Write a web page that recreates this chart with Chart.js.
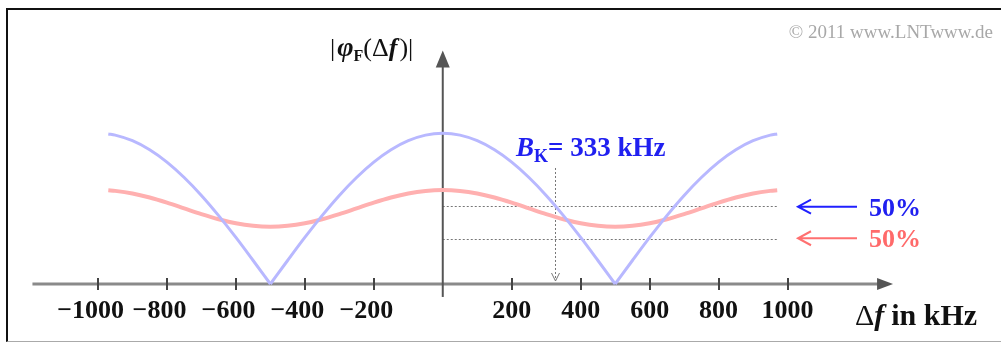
<!DOCTYPE html>
<html>
<head>
<meta charset="utf-8">
<script src="https://cdn.jsdelivr.net/npm/chart.js@4.4.0/dist/chart.umd.min.js"></script>
<style>
    html, body { margin: 0; padding: 0; background: #fff; }
    #wrap { position: relative; width: 1001px; height: 344px; overflow: hidden; }
    #frame {
        position: absolute; left: 6px; top: 8px; width: 1001px; height: 334px;
        border-top: 2px solid #111; border-left: 2px solid #111; border-bottom: 1px solid #aaa;
        box-sizing: border-box; pointer-events: none;
    }
    canvas { position: absolute; left: 0; top: 0; }
</style>
</head>
<body>
<div id="wrap">
    <canvas id="chart" width="1001" height="344"></canvas>
    <div id="frame"></div>
</div>
<script>
// Fréquences Δf en kHz
const freqs = [-970, -950, -900, -850, -800, -750, -700, -650, -600, -550, -500,
    -450, -400, -350, -300, -250, -200, -150, -100, -50, 0,
    50, 100, 150, 200, 250, 300, 350, 400, 450, 500,
    550, 600, 650, 700, 750, 800, 850, 900, 950, 970];

// Courbe bleue
const blueValues = [0.996, 0.988, 0.951, 0.891, 0.809, 0.707, 0.588, 0.454, 0.309, 0.156, 0,
    0.156, 0.309, 0.454, 0.588, 0.707, 0.809, 0.891, 0.951, 0.988, 1,
    0.988, 0.951, 0.891, 0.809, 0.707, 0.588, 0.454, 0.309, 0.156, 0,
    0.156, 0.309, 0.454, 0.588, 0.707, 0.809, 0.891, 0.951, 0.988, 0.996];

// Courbe rouge
const redValues = [0.622, 0.618, 0.601, 0.574, 0.540, 0.502, 0.464, 0.430, 0.403, 0.386, 0.380,
    0.386, 0.403, 0.430, 0.464, 0.502, 0.540, 0.574, 0.601, 0.618, 0.624,
    0.618, 0.601, 0.574, 0.540, 0.502, 0.464, 0.430, 0.403, 0.386, 0.380,
    0.386, 0.403, 0.430, 0.464, 0.502, 0.540, 0.574, 0.601, 0.618, 0.622];

// Graduations de l'axe Δf
const tickValues = [-1000, -800, -600, -400, -200, 200, 400, 600, 800, 1000];
const tickLabels = ['\u22121000', '\u2212800', '\u2212600', '\u2212400', '\u2212200', '200', '400', '600', '800', '1000'];

// Niveaux 50 % et bande de cohérence
const levelBlue = 0.52;
const levelRed = 0.297;
const bkFreq = 326;
const dottedEnd = 970;

const SERIF = '"Liberation Serif", "Times New Roman", serif';
const BLUE_TXT = '#2020f0';
const RED_TXT = '#ff6a6a';

function drawRuns(ctx, x, y, parts) {
    for (const p of parts) {
        ctx.font = p.font;
        ctx.fillStyle = p.color;
        ctx.fillText(p.text, x, y + (p.dy || 0));
        x += ctx.measureText(p.text).width + (p.gap || 0);
    }
    return x;
}

function arrowLeft(ctx, x1, x2, y, color) {
    ctx.save();
    ctx.strokeStyle = color;
    ctx.lineWidth = 2;
    ctx.beginPath();
    ctx.moveTo(x1, y); ctx.lineTo(x2, y);
    ctx.moveTo(x1 + 13, y - 7); ctx.lineTo(x1, y); ctx.lineTo(x1 + 13, y + 7);
    ctx.stroke();
    ctx.restore();
}

// Découpe la courbe bleue aux zéros pour garder les pointes en V
function splitAtZeros(xs, ys) {
    const segments = [];
    let cur = [];
    xs.forEach((x, i) => {
        cur.push({ x: x, y: ys[i] });
        if (ys[i] === 0 && cur.length > 1) {
            segments.push(cur);
            cur = [{ x: x, y: ys[i] }];
        }
    });
    if (cur.length > 1) segments.push(cur);
    return segments;
}

const axesPlugin = {
    id: 'axes',
    beforeDatasetsDraw(chart) {
        const ctx = chart.ctx;
        const xs = chart.scales.x, ys = chart.scales.y;
        const x0 = xs.getPixelForValue(0), y0 = ys.getPixelForValue(0);
        ctx.save();

        // lignes pointillées
        ctx.strokeStyle = '#777';
        ctx.lineWidth = 1;
        ctx.setLineDash([2, 2]);
        ctx.beginPath();
        [levelBlue, levelRed].forEach(v => {
            const y = Math.round(ys.getPixelForValue(v)) + 0.5;
            ctx.moveTo(x0, y); ctx.lineTo(xs.getPixelForValue(dottedEnd), y);
        });
        const xb = Math.round(xs.getPixelForValue(bkFreq)) + 0.5;
        ctx.moveTo(xb, ys.getPixelForValue(0.77));
        ctx.lineTo(xb, y0 - 3);
        ctx.stroke();
        ctx.setLineDash([]);
        ctx.beginPath();
        ctx.moveTo(xb - 4, y0 - 11); ctx.lineTo(xb, y0 - 3); ctx.lineTo(xb + 4, y0 - 11);
        ctx.stroke();

        // axe Δf
        const xStart = xs.getPixelForValue(-1190);
        const xTip = xs.getPixelForValue(1306);
        ctx.strokeStyle = '#8a8a8a';
        ctx.lineWidth = 3;
        ctx.beginPath();
        ctx.moveTo(xStart, y0); ctx.lineTo(xTip - 12, y0);
        ctx.stroke();
        ctx.fillStyle = '#555';
        ctx.beginPath();
        ctx.moveTo(xTip, y0); ctx.lineTo(xTip - 16, y0 - 6); ctx.lineTo(xTip - 16, y0 + 6);
        ctx.closePath(); ctx.fill();

        // graduations
        ctx.strokeStyle = '#444';
        ctx.lineWidth = 2;
        ctx.beginPath();
        tickValues.forEach(v => {
            const x = Math.round(xs.getPixelForValue(v));
            ctx.moveTo(x, y0 - 6); ctx.lineTo(x, y0 + 6);
        });
        ctx.stroke();

        // axe vertical
        const yTip = ys.getPixelForValue(1.55);
        ctx.strokeStyle = '#555';
        ctx.lineWidth = 2;
        ctx.beginPath();
        ctx.moveTo(x0, ys.getPixelForValue(-0.086)); ctx.lineTo(x0, yTip + 10);
        ctx.stroke();
        ctx.fillStyle = '#555';
        ctx.beginPath();
        ctx.moveTo(x0, yTip); ctx.lineTo(x0 - 7, yTip + 17); ctx.lineTo(x0 + 7, yTip + 17);
        ctx.closePath(); ctx.fill();
        ctx.restore();
    },
    afterDraw(chart) {
        const ctx = chart.ctx;
        const xs = chart.scales.x, ys = chart.scales.y;
        const y0 = ys.getPixelForValue(0);
        ctx.save();
        ctx.textBaseline = 'alphabetic';

        // étiquettes des graduations
        ctx.font = 'bold 26px ' + SERIF;
        ctx.fillStyle = '#111';
        ctx.textAlign = 'left';
        tickValues.forEach((v, i) => {
            const label = tickLabels[i];
            const digits = label.replace('\u2212', '');
            const wd = ctx.measureText(digits).width;
            const wl = ctx.measureText(label).width;
            const x = xs.getPixelForValue(v);
            ctx.fillText(label, x + wd / 2 - wl, y0 + 34);
        });

        // titre de l'axe Δf
        drawRuns(ctx, 855, 325, [
            { text: '\u0394', font: '30px ' + SERIF, color: '#111' },
            { text: 'f', font: 'italic bold 30px ' + SERIF, color: '#111', gap: 7 },
            { text: 'in kHz', font: 'bold 30px ' + SERIF, color: '#111' }
        ]);

        // titre de l'axe vertical
        drawRuns(ctx, 330, 56, [
            { text: '|', font: '26px ' + SERIF, color: '#111', gap: 2 },
            { text: '\u03C6', font: 'italic bold 28px ' + SERIF, color: '#111' },
            { text: 'F', font: 'bold 16px ' + SERIF, color: '#111', dy: 5 },
            { text: '(\u0394', font: '26px ' + SERIF, color: '#111' },
            { text: 'f', font: 'italic bold 26px ' + SERIF, color: '#111', gap: 2 },
            { text: ')|', font: '26px ' + SERIF, color: '#111' }
        ]);

        // B_K
        drawRuns(ctx, 516, 156, [
            { text: 'B', font: 'italic bold 27px ' + SERIF, color: BLUE_TXT },
            { text: 'K', font: 'bold 18px ' + SERIF, color: BLUE_TXT, dy: 6 },
            { text: '= 333 kHz', font: 'bold 27px ' + SERIF, color: BLUE_TXT }
        ]);

        // légende 50 %
        const yb = ys.getPixelForValue(levelBlue) + 1;
        const yr = ys.getPixelForValue(levelRed) - 1;
        arrowLeft(ctx, 798, 857, yb, '#2020ff');
        arrowLeft(ctx, 798, 857, yr, '#ff7070');
        ctx.font = 'bold 26px ' + SERIF;
        ctx.fillStyle = BLUE_TXT;
        ctx.fillText('50%', 869, yb + 9);
        ctx.fillStyle = RED_TXT;
        ctx.fillText('50%', 869, yr + 9);

        // copyright
        ctx.font = '19px ' + SERIF;
        ctx.fillStyle = '#a8a8a8';
        ctx.textAlign = 'right';
        ctx.fillText('\u00A9 2011 www.LNTwww.de', 993, 38);
        ctx.restore();
    }
};

const blueSets = splitAtZeros(freqs, blueValues).map(seg => ({
    label: 'bleu',
    data: seg,
    borderColor: '#b8b8ff',
    borderWidth: 3,
    pointRadius: 0,
    cubicInterpolationMode: 'monotone',
    fill: false
}));

const ctx = document.getElementById('chart').getContext('2d');
new Chart(ctx, {
    type: 'line',
    data: {
        datasets: blueSets.concat([{
            label: 'rouge',
            data: freqs.map((f, i) => ({ x: f, y: redValues[i] })),
            borderColor: '#ffb0b0',
            borderWidth: 4,
            pointRadius: 0,
            cubicInterpolationMode: 'monotone',
            fill: false
        }])
    },
    options: {
        responsive: false,
        animation: false,
        clip: false,
        layout: { padding: { left: 29, right: 110, top: 58, bottom: 60 } },
        plugins: { legend: { display: false }, tooltip: { enabled: false } },
        scales: {
            x: { type: 'linear', min: -1200, max: 1300, display: false },
            y: { type: 'linear', min: 0, max: 1.5, display: false }
        }
    },
    plugins: [axesPlugin]
});
</script>
</body>
</html>
